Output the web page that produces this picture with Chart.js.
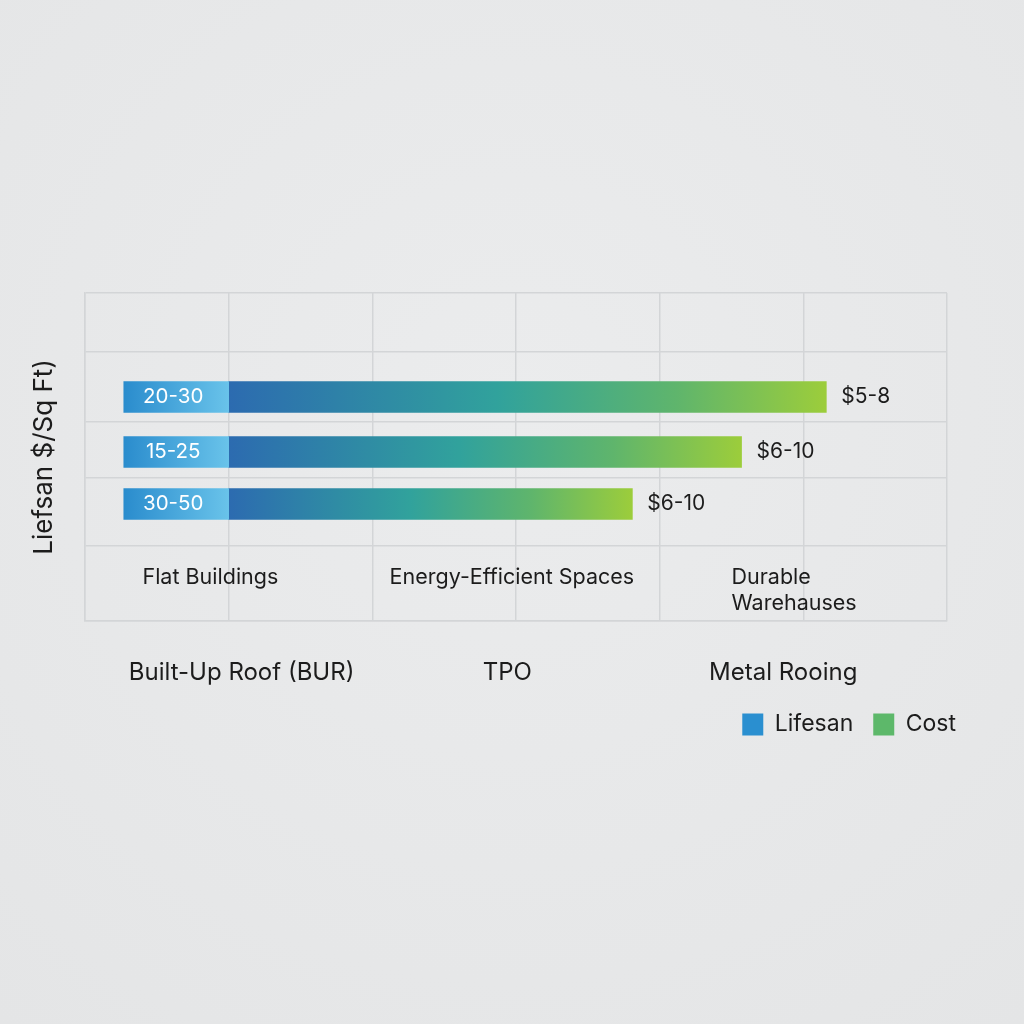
<!DOCTYPE html>
<html>
<head>
<meta charset="utf-8">
<script src="https://cdn.jsdelivr.net/npm/chart.js@4/dist/chart.umd.min.js"></script>
<style>
  body { margin: 0; background: #e6e7e8; }
  #wrap { width: 1024px; height: 1024px; background: radial-gradient(circle at 50% 40%, #ebeced 0%, #e4e5e6 100%); }
</style>
</head>
<body>
<div id="wrap"><canvas id="chart" width="1024" height="1024"></canvas></div>
<script>
const ctx = document.getElementById('chart').getContext('2d');

// data
const materials = ['Built-Up Roof (BUR)', 'TPO', 'Metal Rooing'];
const useCases = ['Flat Buildings', 'Energy-Efficient Spaces', 'Durable\nWarehauses'];
const lifespanLabels = ['20-30', '15-25', '30-50'];
const costLabels = ['$5-8', '$6-10', '$6-10'];
// bar extents in grid-column units (0..6)
const lifespanStart = [0.27, 0.27, 0.27];
const lifespanEnd = [1, 1, 1];
const costEnd = [5.16, 4.57, 3.81];
// row positions on the vertical axis
const rowPos = [104, 159, 211];
const gridRows = [0, 59, 129, 185, 253, 328];

const FONT = 'Inter, "Noto Sans", sans-serif';
const TEXT = '#1c1c1c';

function barGradient(context, stops) {
  const chart = context.chart;
  if (!chart.chartArea || context.type !== 'data') return stops[0][1];
  const xs = chart.scales.x;
  const raw = context.raw.x;
  const x0 = xs.getPixelForValue(raw[0]);
  const x1 = xs.getPixelForValue(raw[1]);
  const g = chart.ctx.createLinearGradient(x0, 0, x1, 0);
  stops.forEach(s => g.addColorStop(s[0], s[1]));
  return g;
}

const lifeStops = [[0, '#2a8ccd'], [1, '#69c3ea']];
const costStops = [[0, '#2c6bb0'], [0.45, '#31a29c'], [0.75, '#5fb56c'], [1, '#9ccd3b']];

// texts drawn at data positions
const textPlugin = {
  id: 'texts',
  afterDatasetsDraw(chart) {
    const c = chart.ctx;
    const xs = chart.scales.x, ys = chart.scales.y;
    c.save();
    c.textBaseline = 'middle';
    // lifespan labels inside the light segment
    c.font = '20.5px ' + FONT;
    c.fillStyle = '#ffffff';
    c.textAlign = 'center';
    chart.getDatasetMeta(0).data.forEach((bar, i) => {
      c.fillText(lifespanLabels[i], (bar.x + bar.base) / 2 - 3, bar.y);
    });
    // cost labels after bar end
    c.font = '21px ' + FONT;
    c.fillStyle = TEXT;
    c.textAlign = 'left';
    chart.getDatasetMeta(1).data.forEach((bar, i) => {
      c.fillText(costLabels[i], bar.x + 15, bar.y);
    });
    // use cases inside the bottom row of the grid
    const useX = [0.40, 2.12, 4.50];
    c.font = '21.5px ' + FONT;
    useCases.forEach((t, i) => {
      t.split('\n').forEach((line, k) => {
        c.fillText(line, xs.getPixelForValue(useX[i]), ys.getPixelForValue(285 + k * 26));
      });
    });
    // material names below the grid
    const matX = [1.09, 2.94, 4.86];
    c.font = '24px ' + FONT;
    c.textAlign = 'center';
    materials.forEach((t, i) => {
      c.fillText(t, xs.getPixelForValue(matX[i]), ys.getPixelForValue(380));
    });
    c.restore();
  }
};

const chart = new Chart(ctx, {
  type: 'bar',
  data: {
    datasets: [{
      label: 'Lifesan',
      data: rowPos.map((y, i) => ({ y: y, x: [lifespanStart[i], lifespanEnd[i]] })),
      backgroundColor: c => barGradient(c, lifeStops),
      legendColor: '#2a8fd0'
    }, {
      label: 'Cost',
      data: rowPos.map((y, i) => ({ y: y, x: [lifespanEnd[i], costEnd[i]] })),
      backgroundColor: c => barGradient(c, costStops),
      legendColor: '#5db86a'
    }]
  },
  options: {
    indexAxis: 'y',
    responsive: false,
    animation: false,
    grouped: false,
    barThickness: 31,
    layout: { padding: { left: 20, right: 48, top: 293, bottom: 278 } },
    scales: {
      x: {
        type: 'linear',
        min: 0,
        max: 6,
        ticks: { display: false, stepSize: 1 },
        grid: { color: '#d3d5d7', lineWidth: 1.5, drawTicks: false },
        border: { display: true, color: '#d3d5d7', width: 1.5 },
        afterFit(scale) { scale.height = 72; }
      },
      y: {
        type: 'linear',
        reverse: true,
        offset: false,
        min: 0,
        max: 328,
        afterBuildTicks(scale) { scale.ticks = gridRows.map(v => ({ value: v })); },
        ticks: { display: false },
        grid: { color: '#d3d5d7', lineWidth: 1.5, drawTicks: false, offset: false },
        border: { display: true, color: '#d3d5d7', width: 1.5 },
        title: {
          display: true,
          text: 'Liefsan $/Sq Ft)',
          color: TEXT,
          font: { family: FONT, size: 26 },
          padding: { top: 9, bottom: 0 }
        },
        afterFit(scale) { scale.width = 65; }
      },
      spacer: {
        type: 'linear',
        position: 'right',
        grid: { display: false },
        ticks: { display: false },
        border: { display: false },
        afterFit(scale) { scale.width = 29; }
      }
    },
    plugins: {
      tooltip: { enabled: false },
      legend: {
        position: 'bottom',
        align: 'end',
        labels: {
          color: TEXT,
          font: { family: FONT, size: 23 },
          boxWidth: 21,
          boxHeight: 22,
          padding: 20,
          generateLabels(chart) {
            return chart.data.datasets.map((ds, i) => ({
              text: ds.label,
              fillStyle: ds.legendColor,
              strokeStyle: ds.legendColor,
              lineWidth: 0,
              fontColor: TEXT,
              datasetIndex: i
            }));
          }
        }
      }
    }
  },
  plugins: [textPlugin]
});
</script>
</body>
</html>
